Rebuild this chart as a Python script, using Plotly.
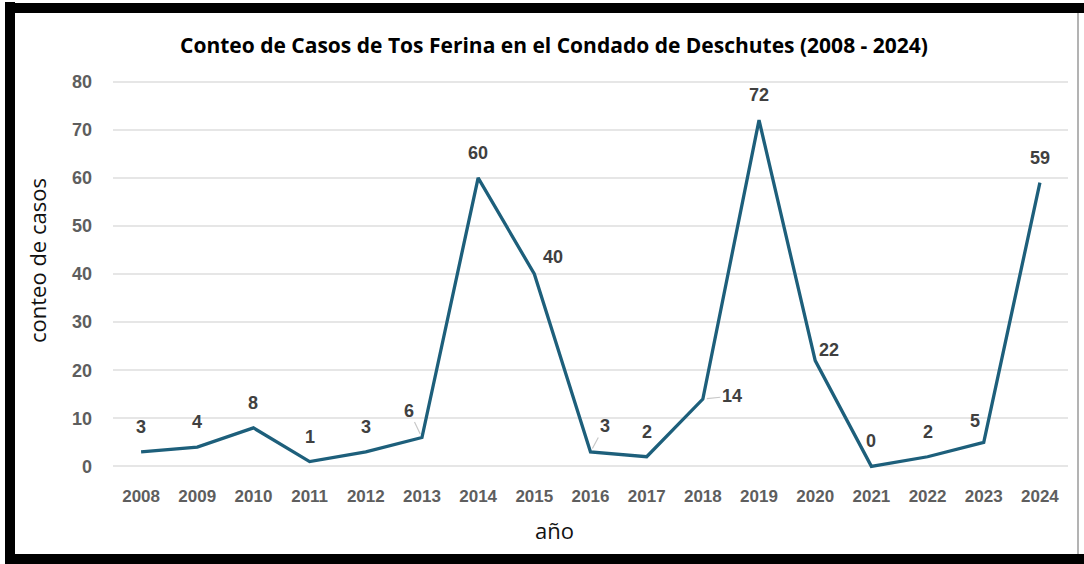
import plotly.graph_objects as go

years = ["2008", "2009", "2010", "2011", "2012", "2013", "2014", "2015", "2016",
         "2017", "2018", "2019", "2020", "2021", "2022", "2023", "2024"]
cases = [3, 4, 8, 1, 3, 6, 60, 40, 3, 2, 14, 72, 22, 0, 2, 5, 59]
y_ticks = [0, 10, 20, 30, 40, 50, 60, 70, 80]

# label offsets in pixels (dx, dy) relative to each point; leader lines flagged
label_offsets = {
    "2013": (-13, -27, True),
    "2015": (19, -17, False),
    "2016": (14, -26, True),
    "2018": (29, -3, True),
    "2020": (14, -11, False),
    "2021": (0, -25, False),
    "2023": (-9, -21, False),
}

W, H = 1084, 564
ML, MR, MT, MB = 113, 16, 72, 88
PW, PH = W - ML - MR, H - MT - MB

def px(x):
    return (x - ML) / PW

def py(y):
    return (H - MB - y) / PH

fig = go.Figure()
fig.add_trace(go.Scatter(
    x=years, y=cases, mode="lines",
    line=dict(color="#1d5f7b", width=3.3),
    hoverinfo="x+y", showlegend=False,
))

label_font = dict(family="Liberation Sans, Arial", size=18, color="#404040", weight="bold")
annotations = []
for i, (yr, v) in enumerate(zip(years, cases)):
    dx, dy, lead = label_offsets.get(yr, (0, -25, False))
    if lead:
        annotations.append(dict(
            x=i, y=v, xref="x", yref="y", text=str(v),
            showarrow=True, arrowhead=0, arrowwidth=1.2, arrowcolor="#c8c8c8",
            ax=dx, ay=dy, standoff=4, font=label_font,
        ))
    else:
        annotations.append(dict(
            x=i, y=v, xref="x", yref="y", text=str(v), showarrow=False,
            xshift=dx, yshift=-dy, font=label_font,
        ))

annotations.append(dict(
    x=px(37), y=py(261), xref="paper", yref="paper", text="conteo de casos",
    textangle=-90, showarrow=False, xanchor="center", yanchor="middle",
    font=dict(family="Open Sans", size=22, color="#111111"),
))
annotations.append(dict(
    x=px(554), y=py(530), xref="paper", yref="paper", text="año",
    showarrow=False, xanchor="center", yanchor="middle",
    font=dict(family="Open Sans", size=22, color="#111111"),
))

shapes = [
    dict(type="line", xref="paper", yref="paper", x0=px(10), x1=px(10), y0=py(2), y1=py(564),
         line=dict(color="black", width=10)),
    dict(type="line", xref="paper", yref="paper", x0=px(5), x1=px(1084), y0=py(8), y1=py(8),
         line=dict(color="black", width=10)),
    dict(type="line", xref="paper", yref="paper", x0=px(5), x1=px(1084), y0=py(559), y1=py(559),
         line=dict(color="black", width=10)),
    dict(type="line", xref="paper", yref="paper", x0=px(1078), x1=px(1078), y0=py(13), y1=py(554),
         line=dict(color="#9a9a9a", width=1.5)),
]

fig.update_layout(
    width=W, height=H,
    margin=dict(l=ML, r=MR, t=MT, b=MB),
    paper_bgcolor="white", plot_bgcolor="white",
    title=dict(
        text="<b>Conteo de Casos de Tos Ferina en el Condado de Deschutes (2008 - 2024)</b>",
        x=554 / W, xanchor="center", y=1 - 46 / H, yanchor="middle",
        font=dict(family="Open Sans", size=21, color="#000000"),
    ),
    xaxis=dict(
        type="category", range=[-0.5, 16.5], showgrid=False, zeroline=False,
        showline=False, ticks="", ticklabelstandoff=8,
        tickfont=dict(family="Liberation Sans, Arial", size=17, color="#5e5e5e", weight="bold"),
    ),
    yaxis=dict(
        range=[-2, 82], tickvals=y_ticks, showgrid=True, gridcolor="#e6e6e6", gridwidth=1.5,
        zeroline=False, showline=False, ticks="", ticklabelstandoff=20,
        tickfont=dict(family="Liberation Sans, Arial", size=18, color="#5e5e5e", weight="bold"),
    ),
    annotations=annotations,
    shapes=shapes,
    showlegend=False,
)

fig.write_html(
    "out.html",
    config={"displayModeBar": False},
    post_script="document.body.style.margin='0';document.body.style.overflow='hidden';",
)
